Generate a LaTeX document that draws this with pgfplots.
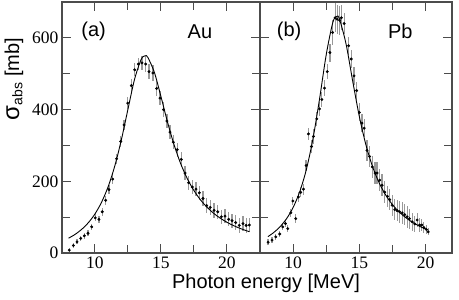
\documentclass[border=0pt]{standalone}
\usepackage{pgfplots}
\usepackage{pgfplotstable}
\pgfplotsset{compat=1.18}
\usepackage{fontspec}
\setmainfont{Liberation Sans}
\newfontfamily\serifnum{Liberation Serif}

\pgfplotstableread{
x y e
8.05 8 6
8.36 21 6
8.64 31 7
8.92 41 7
9.19 48 8
9.47 55 8
9.75 73 9
10.02 98 10
10.30 94 10
10.55 115 11
10.81 147 12
11.06 177 12
11.34 206 13
11.64 263 14
11.95 311 15
12.20 357 15
12.48 418 16
12.75 467 17
13.01 511 18
13.28 527 18
13.56 530 20
13.84 527 22
14.09 506 22
14.39 502 22
14.67 459 20
14.92 432 20
15.19 400 20
15.45 368 20
15.68 337 20
15.93 309 20
16.23 288 20
16.54 261 20
16.82 223 20
17.10 196 20
17.37 184 20
17.65 178 20
17.90 168 20
18.18 152 20
18.46 132 20
18.73 127 20
19.02 119 20
19.30 115 20
19.57 101 20
19.85 103 20
20.13 94 20
20.38 90 20
20.66 85 20
20.93 77 20
21.21 82 20
21.45 77 20
21.69 78 20
}\audata

\pgfplotstableread{
x y e
8.11 30 8
8.41 36 8
8.69 45 8
8.99 53 9
9.22 73 10
9.42 82 10
9.60 68 10
9.83 112 12
9.98 145 12
10.20 96 12
10.40 156 14
10.58 169 14
10.78 178 15
10.98 244 15
11.16 332 18
11.39 297 18
11.54 325 20
11.79 374 20
11.99 402 20
12.17 428 20
12.37 460 22
12.58 506 22
12.78 559 25
12.98 615 35
13.18 656 40
13.33 652 40
13.51 649 40
13.64 656 35
13.86 640 30
14.19 578 25
14.39 541 25
14.60 494 25
14.80 453 25
15.00 392 25
15.20 362 25
15.37 348 25
15.58 286 30
15.78 269 30
15.98 240 30
16.19 223 30
16.34 223 30
16.54 203 30
16.72 189 30
16.92 170 30
17.13 158 30
17.30 149 30
17.48 133 30
17.68 121 30
17.86 118 30
18.05 115 30
18.24 112 30
18.43 107 30
18.61 101 30
18.79 96 28
18.99 87 25
19.19 81 22
19.37 92 20
19.55 78 20
19.72 78 18
19.87 71 15
20.05 66 12
20.20 59 10
}\pbdata

\pgfplotsset{
  panel/.style={
    scale only axis, height=251pt, ymin=0, ymax=700, xmin=7.5,
    axis line style={black!70, line width=1.1pt},
    every tick/.style={black!70, line width=1pt},
    major tick length=9pt, minor tick length=8pt,
    tick align=inside,
    xtick={10,15,20}, minor xtick={12.5,17.5},
    ytick={0,200,400,600}, minor ytick={100,300,500},
    tick pos=both,
    tick label style={font=\fontsize{17.5}{20}\selectfont\serifnum},
    /pgf/number format/assume math mode=true,
  },
  datapts/.style={only marks, mark=*, mark size=1.25pt, black,
    error bars/.cd, y dir=both, y explicit,
    error bar style={black!40, line width=1.2pt}, error mark=none},
  fit/.style={black, line width=0.9pt, no marks, smooth},
}

\begin{document}
\begin{tikzpicture}
\path[use as bounding box] (-62pt,-47pt) rectangle (397pt,253pt);

\begin{axis}[panel, at={(0pt,0pt)}, anchor=south west, width=198pt, xmax=22.5]
\addplot[datapts] table[x=x, y=y, y error=e] {\audata};
\addplot[fit] coordinates {
(8,41.3) (8.5,52.1) (9,66.2) (9.5,84.7) (10,109.1) (10.5,141.8) (11,185.3)
(11.5,242.9) (12,316.2) (12.5,401.6) (13,484.9) (13.5,540.2) (13.8,550)
(14,545.7) (14.5,503.6) (15,435.8) (15.5,364.2) (16,300.7) (16.5,248.4)
(17,206.8) (17.5,173.9) (18,147.9) (18.5,127.2) (19,110.4) (19.5,96.8)
(20,85.6) (20.5,76.3) (21,68.5) (21.5,61.8) (21.7,59.5)};
\node[font=\fontsize{20}{24}\selectfont] at (axis cs:9.9,617) {(a)};
\node[font=\fontsize{20}{24}\selectfont] at (axis cs:17.95,617) {Au};
\end{axis}

\begin{axis}[panel, at={(198pt,0pt)}, anchor=south west, width=192pt, xmax=22, yticklabels={}]
\addplot[datapts] table[x=x, y=y, y error=e] {\pbdata};
\addplot[fit] coordinates {
(8.1,45.8) (8.5,56.0) (9,72.7) (9.5,95.4) (10,126.8) (10.5,170.8) (11,232.7)
(11.5,318.6) (12,430.2) (12.5,552.8) (13,643.2) (13.3,660) (13.5,652.7)
(14,582.8) (14.5,479.5) (15,381.1) (15.5,301.6) (16,241.0) (16.5,195.5)
(17,161.3) (17.5,135.1) (18,114.8) (18.5,98.8) (19,86.0) (19.5,75.6)
(20,67.0) (20.2,64.0)};
\node[font=\fontsize{20}{24}\selectfont] at (axis cs:9.7,617) {(b)};
\node[font=\fontsize{20}{24}\selectfont] at (axis cs:18.1,617) {Pb};
\end{axis}

\node[font=\fontsize{20}{24}\selectfont] at (204pt,-30pt) {Photon energy [MeV]};
\node[font=\fontsize{20}{24}\selectfont, rotate=90] at (-48pt,174pt) {{\fontsize{24}{24}\selectfont σ}\textsubscript{abs} [mb]};
\end{tikzpicture}
\end{document}
